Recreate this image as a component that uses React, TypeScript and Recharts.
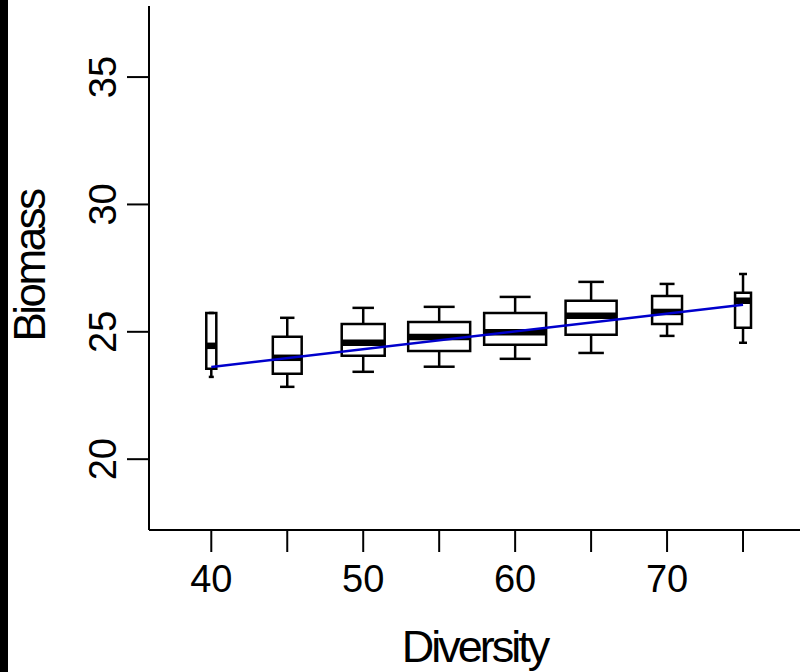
import { ComposedChart, Line, ReferenceArea, ReferenceLine, XAxis, YAxis, Label } from 'recharts';

const FONT = '"Liberation Sans", Arial, Helvetica, sans-serif';

// box plot stats
const diversity = [40, 45, 50, 55, 60, 65, 70, 75];
const lowerWhisker = [23.23, 22.84, 23.43, 23.63, 23.94, 24.17, 24.84, 24.57];
const q1 = [23.55, 23.35, 24.06, 24.25, 24.49, 24.88, 25.31, 25.16];
const median = [24.45, 23.98, 24.57, 24.8, 24.98, 25.63, 25.78, 26.22];
const q3 = [25.74, 24.81, 25.31, 25.39, 25.74, 26.22, 26.41, 26.53];
const upperWhisker = [25.74, 25.55, 25.94, 25.98, 26.37, 26.96, 26.88, 27.27];
// varwidth boxes, in diversity units
const boxWidths = [0.66, 1.9, 2.83, 4.08, 4.08, 3.36, 1.97, 1.05];

// fitted regression line
const fitLine = [
    { x: 40, fit: 23.62 },
    { x: 75, fit: 26.06 },
];

const yTicks = [20, 25, 30, 35];
const X_DOMAIN: [number, number] = [35.9, 78.75];
const Y_DOMAIN: [number, number] = [17.22, 37.79];

function XTick(props: any) {
    const { x, y, payload } = props;
    if (payload.value % 10 !== 0) return <g />;
    return (
        <text x={x} y={y + 40} textAnchor="middle" fontSize={38} fontFamily={FONT} fill="#000">
            {payload.value}
        </text>
    );
}

function YTick(props: any) {
    const { x, y, payload } = props;
    const tx = x - 11;
    return (
        <text
            x={tx}
            y={y}
            transform={`rotate(-90, ${tx}, ${y})`}
            textAnchor="middle"
            fontSize={38}
            fontFamily={FONT}
            fill="#000"
        >
            {payload.value}
        </text>
    );
}

const boxStroke = { stroke: '#000', strokeWidth: 2.5 };

export default function App() {
    return (
        <div style={{ position: 'absolute', left: 0, top: 0, width: 800, height: 672, background: '#fff', overflow: 'hidden' }}>
            <div style={{ position: 'absolute', left: 0, top: 0, width: 8, height: 672, background: '#000' }} />
            <ComposedChart width={800} height={672} data={fitLine} margin={{ top: 6, right: 0, bottom: 0, left: 0 }}>
                <XAxis
                    type="number"
                    dataKey="x"
                    domain={X_DOMAIN}
                    allowDataOverflow
                    ticks={diversity}
                    interval={0}
                    tick={<XTick />}
                    tickSize={22}
                    tickMargin={0}
                    height={142}
                    axisLine={{ stroke: '#000', strokeWidth: 2 }}
                    tickLine={{ stroke: '#000', strokeWidth: 2 }}
                    label={
                        <Label
                            content={(p: any) => {
                                const vb = p.viewBox;
                                return (
                                    <text
                                        x={vb.x + vb.width / 2}
                                        y={vb.y + 132}
                                        textAnchor="middle"
                                        fontSize={45}
                                        letterSpacing={-3}
                                        fontFamily={FONT}
                                        fill="#000"
                                    >
                                        Diversity
                                    </text>
                                );
                            }}
                        />
                    }
                />
                <XAxis
                    xAxisId="top"
                    orientation="top"
                    type="number"
                    domain={X_DOMAIN}
                    allowDataOverflow
                    height={0}
                    tick={false}
                    tickLine={false}
                    axisLine={{ stroke: '#000', strokeWidth: 2 }}
                />
                <YAxis
                    type="number"
                    domain={Y_DOMAIN}
                    allowDataOverflow
                    ticks={yTicks}
                    interval={0}
                    width={149}
                    tick={<YTick />}
                    tickSize={22}
                    tickMargin={0}
                    axisLine={{ stroke: '#000', strokeWidth: 2 }}
                    tickLine={{ stroke: '#000', strokeWidth: 2 }}
                    label={
                        <Label
                            content={(p: any) => {
                                const vb = p.viewBox;
                                const cx = 45;
                                const cy = vb.y + vb.height / 2 - 2;
                                return (
                                    <text
                                        x={cx}
                                        y={cy}
                                        transform={`rotate(-90, ${cx}, ${cy})`}
                                        textAnchor="middle"
                                        fontSize={44}
                                        letterSpacing={-2.5}
                                        fontFamily={FONT}
                                        fill="#000"
                                    >
                                        Biomass
                                    </text>
                                );
                            }}
                        />
                    }
                />

                {diversity.map((d, i) => (
                    <ReferenceLine
                        key={`wl${i}`}
                        segment={[{ x: d, y: lowerWhisker[i] }, { x: d, y: q1[i] }]}
                        {...boxStroke}
                    />
                ))}
                {diversity.map((d, i) => (
                    <ReferenceLine
                        key={`wu${i}`}
                        segment={[{ x: d, y: q3[i] }, { x: d, y: upperWhisker[i] }]}
                        {...boxStroke}
                    />
                ))}
                {diversity.map((d, i) => (
                    <ReferenceLine
                        key={`cl${i}`}
                        segment={[
                            { x: d - boxWidths[i] / 4, y: lowerWhisker[i] },
                            { x: d + boxWidths[i] / 4, y: lowerWhisker[i] },
                        ]}
                        {...boxStroke}
                    />
                ))}
                {diversity.map((d, i) => (
                    <ReferenceLine
                        key={`cu${i}`}
                        segment={[
                            { x: d - boxWidths[i] / 4, y: upperWhisker[i] },
                            { x: d + boxWidths[i] / 4, y: upperWhisker[i] },
                        ]}
                        {...boxStroke}
                    />
                ))}
                {diversity.map((d, i) => (
                    <ReferenceArea
                        key={`box${i}`}
                        x1={d - boxWidths[i] / 2}
                        x2={d + boxWidths[i] / 2}
                        y1={q1[i]}
                        y2={q3[i]}
                        fill="#fff"
                        fillOpacity={1}
                        {...boxStroke}
                    />
                ))}
                {diversity.map((d, i) => (
                    <ReferenceLine
                        key={`med${i}`}
                        segment={[
                            { x: d - boxWidths[i] / 2, y: median[i] },
                            { x: d + boxWidths[i] / 2, y: median[i] },
                        ]}
                        stroke="#000"
                        strokeWidth={6.5}
                    />
                ))}

                <Line
                    type="linear"
                    dataKey="fit"
                    stroke="#0000cc"
                    strokeWidth={2.5}
                    dot={false}
                    activeDot={false}
                    isAnimationActive={false}
                />
            </ComposedChart>
        </div>
    );
}
